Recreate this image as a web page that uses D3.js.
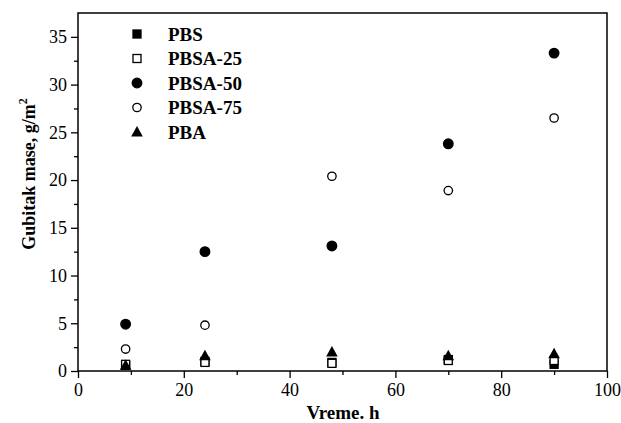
<!DOCTYPE html>
<html>
<head>
<meta charset="utf-8">
<script src="https://cdn.jsdelivr.net/npm/d3@7"></script>
<style>
  body { margin: 0; background: #fff; }
  svg { display: block; font-family: "Liberation Serif", "Times New Roman", serif; }
</style>
</head>
<body>
<div id="chart"></div>
<script>
// Sampling times (h)
const times = [9, 24, 48, 70, 90];

// Mass loss per series (g/m2)
const pbs = [0.6, 1.0, 0.9, 1.2, 0.7];
const pbsa25 = [0.7, 0.9, 0.8, 1.1, 1.1];
const pbsa50 = [4.9, 12.5, 13.1, 23.8, 33.3];
const pbsa75 = [2.3, 4.8, 20.4, 18.9, 26.5];
const pba = [0.6, 1.6, 2.0, 1.6, 1.8];

const seriesNames = ['PBS', 'PBSA-25', 'PBSA-50', 'PBSA-75', 'PBA'];
const xTicks = [0, 20, 40, 60, 80, 100];
const yTicks = [0, 5, 10, 15, 20, 25, 30, 35];

const seriesList = [
  { name: seriesNames[0], values: pbs, shape: 'square', filled: true },
  { name: seriesNames[1], values: pbsa25, shape: 'square', filled: false },
  { name: seriesNames[2], values: pbsa50, shape: 'circle', filled: true },
  { name: seriesNames[3], values: pbsa75, shape: 'circle', filled: false },
  { name: seriesNames[4], values: pba, shape: 'triangle', filled: true }
];

const width = 621, height = 423;
const margin = { top: 13, right: 14, bottom: 52, left: 78 };
const innerW = width - margin.left - margin.right;
const innerH = height - margin.top - margin.bottom;

const svg = d3.select('#chart').append('svg')
  .attr('width', width).attr('height', height);

const g = svg.append('g').attr('transform', `translate(${margin.left},${margin.top})`);

const x = d3.scaleLinear().domain([0, 100]).range([0, innerW]);
const y = d3.scaleLinear().domain([0, 37.5]).range([innerH, 0]);

// frame
g.append('rect').attr('width', innerW).attr('height', innerH)
  .attr('fill', 'none').attr('stroke', '#000').attr('stroke-width', 1.5);

// minor ticks
g.append('g').attr('transform', `translate(0,${innerH})`)
  .call(d3.axisBottom(x).tickValues(d3.range(10, 100, 20)).tickSize(4).tickFormat(''))
  .call(a => a.select('.domain').remove());
g.append('g')
  .call(d3.axisLeft(y).tickValues(d3.range(2.5, 37.5, 5)).tickSize(4).tickFormat(''))
  .call(a => a.select('.domain').remove());

// major ticks
const xAxis = g.append('g').attr('transform', `translate(0,${innerH})`)
  .call(d3.axisBottom(x).tickValues(xTicks).tickSize(7).tickPadding(5));
xAxis.select('.domain').remove();
xAxis.selectAll('text').attr('font-size', 18).attr('font-family', 'Liberation Serif');

const yAxis = g.append('g')
  .call(d3.axisLeft(y).tickValues(yTicks).tickSize(7).tickPadding(4));
yAxis.select('.domain').remove();
yAxis.selectAll('text').attr('font-size', 18).attr('font-family', 'Liberation Serif');

g.selectAll('.tick line').attr('stroke-width', 1.3);

// markers
function drawMarker(sel, s) {
  if (s.shape === 'circle') {
    sel.append('circle').attr('r', s.filled ? 4.8 : 4.2)
      .attr('fill', s.filled ? '#000' : '#fff').attr('stroke', '#000').attr('stroke-width', 1.3);
  } else if (s.shape === 'square') {
    sel.append('rect').attr('x', -4).attr('y', -4).attr('width', 8).attr('height', 8)
      .attr('fill', s.filled ? '#000' : '#fff').attr('stroke', '#000').attr('stroke-width', 1.3);
  } else {
    sel.append('path').attr('d', 'M0,-6L5.8,4.5L-5.8,4.5Z').attr('fill', '#000');
  }
}

seriesList.forEach(s => {
  g.selectAll(null).data(times.map((t, i) => ({ t, v: s.values[i] })))
    .join('g')
    .attr('transform', d => `translate(${x(d.t)},${y(d.v)})`)
    .each(function() { drawMarker(d3.select(this), s); });
});

// legend
const legend = g.append('g').attr('transform', 'translate(59,21)');
seriesList.forEach((s, i) => {
  const row = legend.append('g').attr('transform', `translate(0,${i * 24.5})`);
  drawMarker(row.append('g'), s);
  row.append('text').attr('x', 31).attr('y', 6.5).attr('font-size', 19)
    .attr('font-weight', 'bold').text(s.name);
});

// axis titles
svg.append('text')
  .attr('x', 343).attr('y', 419)
  .attr('text-anchor', 'middle').attr('font-size', 19).attr('font-weight', 'bold')
  .text('Vreme. h');

const yt = svg.append('text')
  .attr('transform', 'translate(35,174) rotate(-90)')
  .attr('text-anchor', 'middle').attr('font-size', 18).attr('font-weight', 'bold');
yt.append('tspan').text('Gubitak mase, g/m');
yt.append('tspan').attr('dy', -8).attr('font-size', 12).text('2');
</script>
</body>
</html>
